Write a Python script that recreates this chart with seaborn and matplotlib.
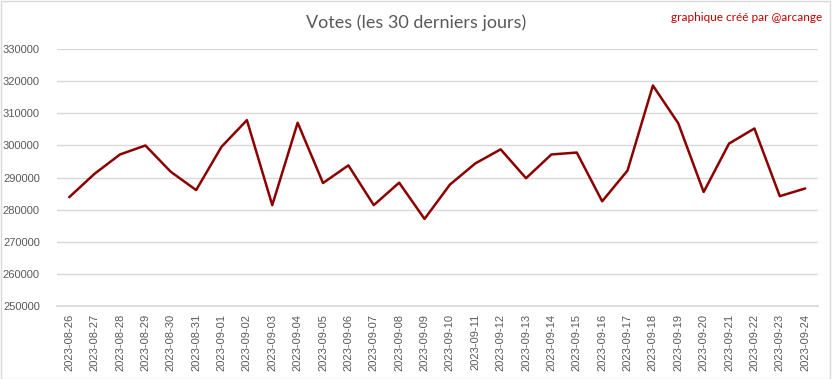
import pandas as pd
import matplotlib
matplotlib.use("Agg")
import matplotlib.pyplot as plt
import seaborn as sns

# data
dates = pd.date_range("2023-08-26", "2023-09-24").strftime("%Y-%m-%d").tolist()
votes = [283900, 291200, 297200, 300000, 291800, 286100, 299600, 307900, 281400, 307100,
         288300, 293800, 281400, 288400, 277100, 287800, 294400, 298800, 289800, 297200,
         297800, 282600, 292200, 318700, 306900, 285500, 300600, 305300, 284200, 286600]
yticks = list(range(250000, 330001, 10000))

df = pd.DataFrame({"date": dates, "votes": votes})

sns.set_theme(style="white")
plt.rcParams["font.family"] = ["Lato", "DejaVu Sans"]

fig = plt.figure(figsize=(8.32, 3.79), dpi=100)
ax = fig.add_axes([0.068, 0.193, 0.915, 0.677])

sns.lineplot(data=df, x="date", y="votes", ax=ax, color="#8B0000", linewidth=1.8, sort=False)

ax.set_xlim(-0.5, len(dates) - 0.5)
ax.set_ylim(250000, 330000)
ax.set_yticks(yticks)
ax.set_yticklabels([str(v) for v in yticks])
ax.grid(axis="y", color="#d9d9d9", linewidth=1)
ax.set_axisbelow(True)
for s in ["top", "right", "left"]:
    ax.spines[s].set_visible(False)
ax.spines["bottom"].set_color("#d9d9d9")
ax.set_xlabel("")
ax.set_ylabel("")
ax.tick_params(axis="x", rotation=90, labelsize=8, colors="#595959", length=0, pad=6)
ax.tick_params(axis="y", labelsize=8, colors="#595959", length=0, pad=12)
for lbl in ax.get_xticklabels() + ax.get_yticklabels():
    lbl.set_fontfamily(["Liberation Sans", "DejaVu Sans"])

fig.text(0.5, 0.94, "Votes (les 30 derniers jours)", ha="center", va="center",
         fontsize=13, color="#595959")
fig.text(0.988, 0.955, "graphique créé par @arcange", ha="right", va="center",
         fontsize=8.5, color="#c00000")

fig.patches.append(plt.Rectangle((0.001, 0.001), 0.997, 0.997, transform=fig.transFigure,
                                 fill=False, edgecolor="#d9d9d9", linewidth=1))

fig.savefig("out.png", dpi=100, facecolor="white")
